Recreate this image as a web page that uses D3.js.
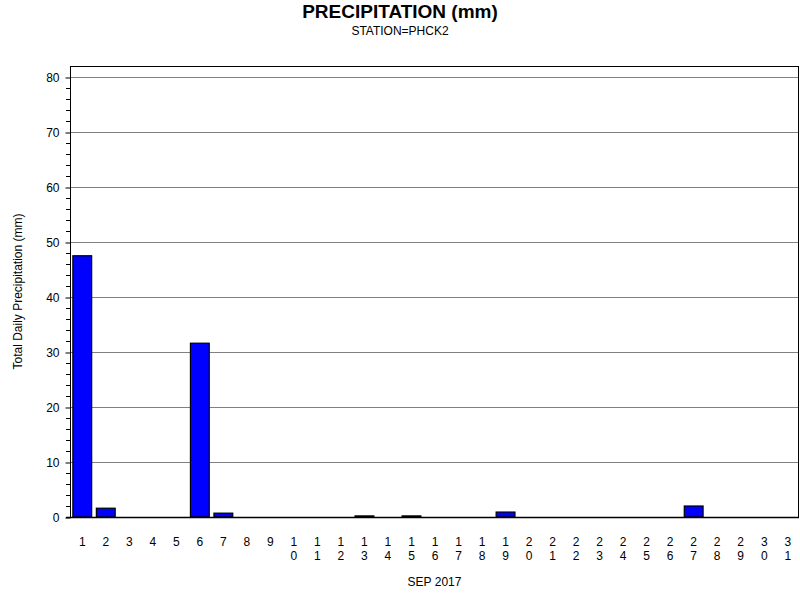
<!DOCTYPE html>
<html><head><meta charset="utf-8">
<script src="https://cdn.jsdelivr.net/npm/d3@7"></script>
<style>body{margin:0;background:#fff}svg{display:block}text{font-family:"Liberation Sans",Arial,sans-serif}</style>
</head><body><svg id="c" width="800" height="600"></svg>
<script>
const days = d3.range(1, 32).map(String);
const precip = [47.5,1.6,0,0,0,31.6,0.7,0,0,0,0,0,0.2,0,0.2,0,0,0,0.9,0,0,0,0,0,0,0,2.0,0,0,0,0];
const yTicks = [0,10,20,30,40,50,60,70,80];
const title = "PRECIPITATION (mm)";
const subtitle = "STATION=PHCK2";
const xTitle = "SEP 2017";
const yTitle = "Total Daily Precipitation (mm)";

const svg = d3.select("#c");
const L=70, R=799, T=66, B=517;
const x = d3.scaleBand().domain(days).range([L,R]).paddingInner(0.2).paddingOuter(0.1);
const y = d3.scaleLinear().domain([0,82]).range([B,T]);

svg.append("text").attr("x",400).attr("y",18).attr("text-anchor","middle")
  .attr("font-size",19).attr("font-weight","bold").text(title);
svg.append("text").attr("x",400).attr("y",35).attr("text-anchor","middle")
  .attr("font-size",12).text(subtitle);

// gridlines
svg.append("g").selectAll("line").data(yTicks.filter(d=>d>0)).join("line")
  .attr("x1",L).attr("x2",R).attr("y1",d=>y(d)+0.5).attr("y2",d=>y(d)+0.5)
  .attr("stroke","#808080").attr("stroke-width",1);

// bars
svg.append("g").selectAll("rect").data(precip.map((v,i)=>({d:days[i],v})).filter(o=>o.v>0)).join("rect")
  .attr("x",o=>x(o.d)+0.5).attr("width",x.bandwidth())
  .attr("y",o=>y(o.v)).attr("height",o=>Math.max(0.5,B-y(o.v)))
  .attr("fill","#0000ff").attr("stroke","#000").attr("stroke-width",1.2);

// frame
svg.append("rect").attr("x",L+0.5).attr("y",T+0.5).attr("width",R-L-1).attr("height",B-T)
  .attr("fill","none").attr("stroke","#000").attr("stroke-width",1);
svg.append("line").attr("x1",L-4).attr("x2",R).attr("y1",B+0.5).attr("y2",B+0.5).attr("stroke","#000").attr("stroke-width",1.5);

// y axis
const yAxis = d3.axisLeft(y).tickValues(yTicks).tickSize(5).tickPadding(6);
const ga = svg.append("g").attr("transform",`translate(${L+0.5},0.5)`).call(yAxis);
ga.select(".domain").remove();
ga.selectAll("text").attr("font-size",12).attr("font-family","Liberation Sans, Arial, sans-serif").attr("fill","#000");
ga.selectAll("line").attr("stroke","#000");
const minor = d3.range(0,82,2).filter(v=>v%10!==0);
svg.append("g").selectAll("line").data(minor).join("line")
  .attr("x1",L-4).attr("x2",L).attr("y1",d=>Math.round(y(d))+0.5).attr("y2",d=>Math.round(y(d))+0.5)
  .attr("stroke","#000");

// x labels stacked digits
const xl = svg.append("g");
days.forEach(d=>{
  const cx = x(d)+x.bandwidth()/2+0.5;
  d.split("").forEach((ch,i)=>{
    xl.append("text").attr("x",cx).attr("y",546+i*14).attr("text-anchor","middle")
      .attr("font-size",12).text(ch);
  });
});

svg.append("text").attr("x",(L+R)/2).attr("y",586).attr("text-anchor","middle").attr("font-size",12).text(xTitle);
svg.append("text").attr("transform",`translate(22,${(T+B)/2}) rotate(-90)`).attr("text-anchor","middle")
  .attr("font-size",12).text(yTitle);
</script></body></html>
